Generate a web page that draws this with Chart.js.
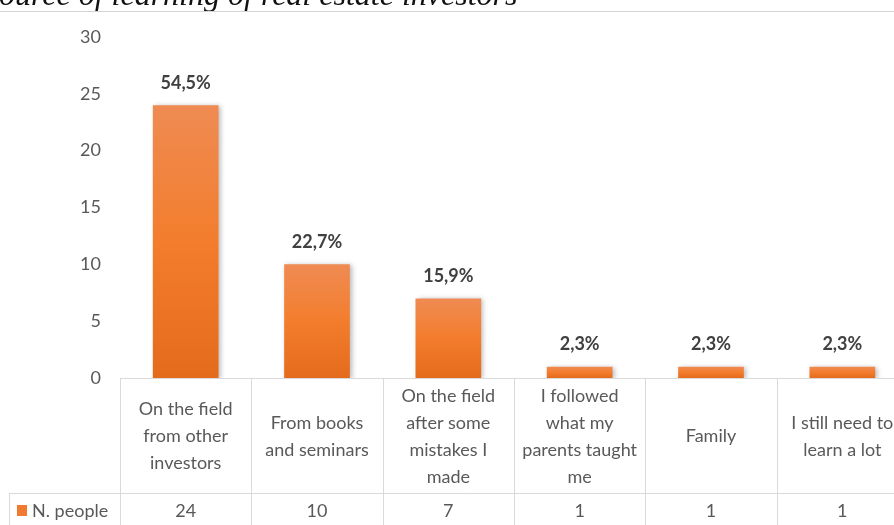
<!DOCTYPE html>
<html>
<head>
<meta charset="utf-8">
<script src="https://cdn.jsdelivr.net/npm/chart.js@4.4.1/dist/chart.umd.min.js"></script>
<style>
    html, body { margin: 0; padding: 0; background: #fff; overflow: hidden; }
    #wrap { position: relative; width: 920px; height: 525px; }
</style>
</head>
<body>
<div id="wrap"><canvas id="learningChart"></canvas></div>
<script>
const chartTitle = 'Source of learning of real estate investors';
const categories = [
    ['On the field', 'from other', 'investors'],
    ['From books', 'and seminars'],
    ['On the field', 'after some', 'mistakes I', 'made'],
    ['I followed', 'what my', 'parents taught', 'me'],
    ['Family'],
    ['I still need to', 'learn a lot']
];
const seriesName = 'N. people';
const people = [24, 10, 7, 1, 1, 1];
const shareLabels = ['54,5%', '22,7%', '15,9%', '2,3%', '2,3%', '2,3%'];
const yTicks = [0, 5, 10, 15, 20, 25, 30];

const FONT = 'Lato, "Open Sans", sans-serif';
const GRID = '#d9d9d9';

function barGradient(context) {
    const chart = context.chart;
    const area = chart.chartArea;
    if (!area) return '#f07b30';
    const yScale = chart.scales.y;
    const top = yScale.getPixelForValue(context.raw);
    const bottom = yScale.getPixelForValue(0);
    const g = chart.ctx.createLinearGradient(0, top, 0, bottom);
    g.addColorStop(0, '#ef8b53');
    g.addColorStop(0.5, '#f37d2d');
    g.addColorStop(1, '#e46b1b');
    return g;
}

const tablePlugin = {
    id: 'tablePlugin',
    beforeDatasetsDraw(chart) {
        const ctx = chart.ctx;
        ctx.save();
        ctx.shadowColor = 'rgba(0,0,0,0.28)';
        ctx.shadowBlur = 5;
        ctx.shadowOffsetX = 2;
        ctx.shadowOffsetY = 1;
    },
    afterDatasetsDraw(chart) {
        chart.ctx.restore();
    },
    afterDraw(chart) {
        const ctx = chart.ctx;
        const area = chart.chartArea;
        const x = chart.scales.x;
        const y = chart.scales.y;
        const meta = chart.getDatasetMeta(0);
        const colW = (area.right - area.left) / categories.length;
        const rowY = 493;
        const bottom = chart.height;

        ctx.save();

        // title, cut by the top of the page
        ctx.fillStyle = '#111';
        ctx.font = 'italic 32px "Liberation Serif", serif';
        ctx.textAlign = 'left';
        ctx.textBaseline = 'alphabetic';
        ctx.fillText(chartTitle, -17, 5);
        ctx.fillStyle = '#d4d4d4';
        ctx.fillRect(0, 11, chart.width, 1);

        // data labels
        ctx.fillStyle = '#404040';
        ctx.font = 'bold 18px ' + FONT;
        ctx.textAlign = 'center';
        ctx.textBaseline = 'middle';
        meta.data.forEach((bar, i) => {
            ctx.fillText(shareLabels[i], bar.x, bar.y - 22);
        });

        // table lines
        ctx.strokeStyle = GRID;
        ctx.lineWidth = 1;
        ctx.beginPath();
        ctx.moveTo(area.left, y.getPixelForValue(0) + 0.5);
        ctx.lineTo(chart.width, y.getPixelForValue(0) + 0.5);
        ctx.moveTo(9, rowY + 0.5);
        ctx.lineTo(chart.width, rowY + 0.5);
        ctx.moveTo(9.5, rowY);
        ctx.lineTo(9.5, bottom);
        for (let i = 0; i <= categories.length; i++) {
            const lx = Math.round(area.left + i * colW) + 0.5;
            ctx.moveTo(lx, area.bottom);
            ctx.lineTo(lx, bottom);
        }
        ctx.stroke();

        // category labels and values
        ctx.fillStyle = '#595959';
        ctx.font = '18px ' + FONT;
        const lineH = 27;
        const headMid = (area.bottom + rowY) / 2 + 1;
        categories.forEach((lines, i) => {
            const cx = x.getPixelForValue(i);
            const start = headMid - (lines.length - 1) * lineH / 2;
            lines.forEach((t, j) => ctx.fillText(t, cx, start + j * lineH));
            ctx.fillText(String(people[i]), cx, 511);
        });

        // legend key
        ctx.fillStyle = '#f07b30';
        ctx.fillRect(17, 505, 10, 11);
        ctx.fillStyle = '#595959';
        ctx.textAlign = 'left';
        ctx.fillText(seriesName, 32, 511);

        ctx.restore();
    }
};

window.addEventListener('load', function () {
    const ctx = document.getElementById('learningChart').getContext('2d');
    new Chart(ctx, {
        type: 'bar',
        data: {
            labels: categories,
            datasets: [{
                label: seriesName,
                data: people,
                backgroundColor: barGradient,
                borderWidth: 0,
                barPercentage: 0.5,
                categoryPercentage: 1
            }]
        },
        options: {
            responsive: true,
            maintainAspectRatio: false,
            animation: false,
            layout: {
                padding: { top: 37, right: 12, bottom: 147, left: 0 }
            },
            plugins: {
                legend: { display: false },
                tooltip: { enabled: false }
            },
            scales: {
                x: { display: false },
                y: {
                    min: 0,
                    max: 30,
                    afterFit(scale) { scale.width = 120; },
                    afterBuildTicks(scale) {
                        scale.ticks = yTicks.map(v => ({ value: v }));
                    },
                    grid: { display: false, drawTicks: false },
                    border: { display: false },
                    ticks: {
                        padding: 19,
                        color: '#595959',
                        font: { family: FONT, size: 18 }
                    }
                }
            }
        },
        plugins: [tablePlugin]
    });
});
</script>
</body>
</html>
